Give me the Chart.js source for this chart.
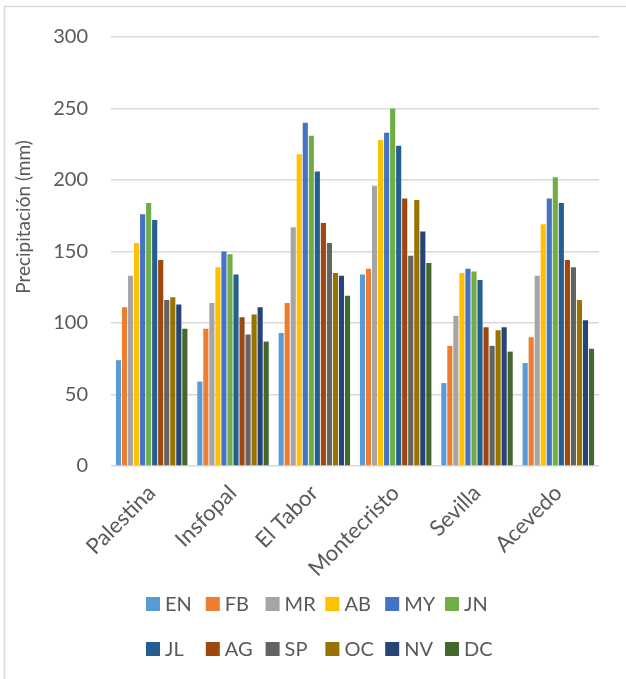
<!DOCTYPE html>
<html>
<head>
<meta charset="utf-8">
<script src="https://cdn.jsdelivr.net/npm/chart.js@4"></script>
<style>
  html, body { margin: 0; padding: 0; background: #fff; }
  canvas { display: block; }
</style>
</head>
<body>
<canvas id="myChart" width="626" height="679"></canvas>
<script>
// Stations (categories) and monthly precipitation (mm)
const stations = ['Palestina', 'Insfopal', 'El Tabor', 'Montecristo', 'Sevilla', 'Acevedo'];
const months = ['EN', 'FB', 'MR', 'AB', 'MY', 'JN', 'JL', 'AG', 'SP', 'OC', 'NV', 'DC'];

const en = [74, 59, 93, 134, 58, 72];
const fb = [111, 96, 114, 138, 84, 90];
const mr = [133, 114, 167, 196, 105, 133];
const ab = [156, 139, 218, 228, 135, 169];
const my = [176, 150, 240, 233, 138, 187];
const jn = [184, 148, 231, 250, 136, 202];
const jl = [172, 134, 206, 224, 130, 184];
const ag = [144, 104, 170, 187, 97, 144];
const sp = [116, 92, 156, 147, 84, 139];
const oc = [118, 106, 135, 186, 95, 116];
const nv = [113, 111, 133, 164, 97, 102];
const dc = [96, 87, 119, 142, 80, 82];

const yTicks = [0, 50, 100, 150, 200, 250, 300];
const yTitle = 'Precipitación (mm)';

const series = [en, fb, mr, ab, my, jn, jl, ag, sp, oc, nv, dc];
const colors = ['#5B9BD5', '#ED7D31', '#A5A5A5', '#FFC000', '#4472C4', '#70AD47',
                '#255E91', '#9E480E', '#636363', '#997300', '#264478', '#43682B'];

const FONT = 'Lato, "Open Sans", sans-serif';
const TEXT = '#595959';
const GRID = '#d9d9d9';

// frame, y title and two-row legend drawn by hand
const extras = {
    id: 'extras',
    beforeDraw(chart) {
        const c = chart.ctx;
        c.save();
        c.fillStyle = '#fff';
        c.fillRect(0, 0, chart.width, chart.height);
        c.strokeStyle = GRID;
        c.lineWidth = 1.5;
        c.beginPath();
        c.moveTo(4.5, chart.height);
        c.lineTo(4.5, 6.5);
        c.lineTo(chart.width, 6.5);
        c.stroke();
        c.restore();
    },
    afterDraw(chart) {
        const c = chart.ctx;
        c.save();
        // axis title
        c.fillStyle = TEXT;
        c.font = '19px ' + FONT;
        c.textAlign = 'center';
        c.textBaseline = 'middle';
        c.translate(24, 217);
        c.rotate(-Math.PI / 2);
        c.fillText(yTitle, 0, 0);
        c.restore();

        // legend
        c.save();
        c.font = '20px ' + FONT;
        c.textBaseline = 'middle';
        c.textAlign = 'left';
        chart.data.datasets.forEach((ds, i) => {
            const col = i % 6, row = Math.floor(i / 6);
            const x = 146 + col * 59.8;
            const y = 604 + row * 45;
            c.fillStyle = ds.backgroundColor;
            c.fillRect(x, y - 7, 14, 14);
            c.fillStyle = TEXT;
            c.fillText(ds.label, x + 19, y + 1);
        });
        c.restore();
    }
};

const myChart = new Chart(document.getElementById('myChart').getContext('2d'), {
    type: 'bar',
    data: {
        labels: stations,
        datasets: months.map((m, i) => ({
            label: m,
            data: series[i],
            backgroundColor: colors[i],
            borderWidth: 0,
            categoryPercentage: 0.89,
            barPercentage: 0.85
        }))
    },
    options: {
        responsive: false,
        animation: false,
        layout: { padding: { top: 37, right: 27, left: 0, bottom: 0 } },
        plugins: {
            legend: { display: false },
            tooltip: { enabled: false }
        },
        scales: {
            x: {
                grid: { display: false },
                border: { display: false },
                ticks: {
                    autoSkip: false,
                    minRotation: 45,
                    maxRotation: 45,
                    padding: 6,
                    color: TEXT,
                    font: { family: FONT, size: 22 }
                },
                afterFit(scale) { scale.height = 213; }
            },
            y: {
                min: 0,
                max: 300,
                afterBuildTicks(scale) { scale.ticks = yTicks.map(v => ({ value: v })); },
                grid: { color: GRID, lineWidth: 1.5, drawTicks: false },
                border: { display: false },
                ticks: {
                    padding: 23,
                    color: TEXT,
                    font: { family: FONT, size: 20 }
                },
                afterFit(scale) { scale.width = 111; }
            }
        }
    },
    plugins: [extras]
});
</script>
</body>
</html>
